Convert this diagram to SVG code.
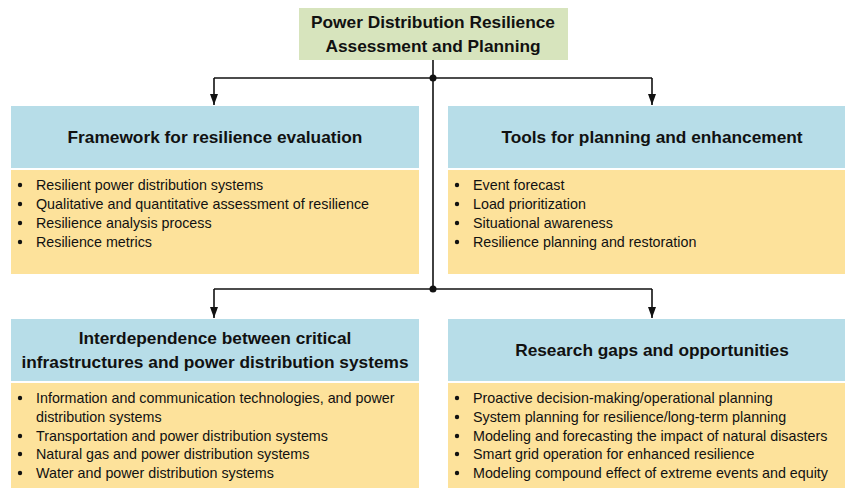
<svg xmlns="http://www.w3.org/2000/svg" width="845" height="488" viewBox="0 0 845 488">
<defs>
<style>
.title{font-family:"Liberation Sans",Arial,sans-serif;font-weight:bold;font-size:17.3px;fill:#111;text-anchor:middle}
.hd{font-family:"Liberation Sans",Arial,sans-serif;font-weight:bold;font-size:17.3px;fill:#111;text-anchor:middle}
.it{font-family:"Liberation Sans",Arial,sans-serif;font-size:14.3px;fill:#111}
.hbox{fill:#B7DDE8}
.bbox{fill:#FDE29B}
.tbox{fill:#D7E4BD}
.ln{stroke:#111;stroke-width:1.6;fill:none}
</style>
<marker id="arr" viewBox="0 0 11 8" refX="11" refY="4" markerWidth="11" markerHeight="8" markerUnits="userSpaceOnUse" orient="auto"><path d="M0,0 L11,4 L0,8 z" fill="#111"/></marker>
</defs>
<rect width="845" height="488" fill="#fff"/>
<g id="connectors">
<path class="ln" d="M433,60 V289"/>
<path class="ln" d="M214,78 H652"/>
<path class="ln" d="M214,78 V105" marker-end="url(#arr)"/>
<path class="ln" d="M652,78 V105" marker-end="url(#arr)"/>
<path class="ln" d="M214,289 H652"/>
<path class="ln" d="M214,289 V318" marker-end="url(#arr)"/>
<path class="ln" d="M652,289 V318" marker-end="url(#arr)"/>
<circle cx="433" cy="78" r="3.5" fill="#111"/>
<circle cx="433" cy="289" r="3.5" fill="#111"/>
</g>
<g id="root">
<rect class="tbox" x="299" y="8" width="269" height="52"/>
<text class="title" x="433" y="28">Power Distribution Resilience</text>
<text class="title" x="433" y="52">Assessment and Planning</text>
</g>
<g id="framework">
<rect class="hbox" x="11" y="106" width="408" height="62"/>
<text class="hd" x="215" y="143">Framework for resilience evaluation</text>
<rect class="bbox" x="11" y="170" width="408" height="104"/>
<g class="it">
<text x="36" y="190">Resilient power distribution systems</text>
<text x="36" y="209">Qualitative and quantitative assessment of resilience</text>
<text x="36" y="228">Resilience analysis process</text>
<text x="36" y="247">Resilience metrics</text>
</g>
<g fill="#111"><circle cx="20" cy="185" r="2.2"/><circle cx="20" cy="204" r="2.2"/><circle cx="20" cy="223" r="2.2"/><circle cx="20" cy="242" r="2.2"/></g>
</g>
<g id="tools">
<rect class="hbox" x="448" y="106" width="397" height="62"/>
<text class="hd" x="652" y="143">Tools for planning and enhancement</text>
<rect class="bbox" x="448" y="170" width="397" height="104"/>
<g class="it">
<text x="473" y="190">Event forecast</text>
<text x="473" y="209">Load prioritization</text>
<text x="473" y="228">Situational awareness</text>
<text x="473" y="247">Resilience planning and restoration</text>
</g>
<g fill="#111"><circle cx="457" cy="185" r="2.2"/><circle cx="457" cy="204" r="2.2"/><circle cx="457" cy="223" r="2.2"/><circle cx="457" cy="242" r="2.2"/></g>
</g>
<g id="interdependence">
<rect class="hbox" x="11" y="319" width="408" height="62"/>
<text class="hd" x="215" y="344">Interdependence between critical</text>
<text class="hd" x="215" y="368">infrastructures and power distribution systems</text>
<rect class="bbox" x="11" y="383" width="408" height="105"/>
<g class="it">
<text x="36" y="403">Information and communication technologies, and power</text>
<text x="36" y="422">distribution systems</text>
<text x="36" y="441">Transportation and power distribution systems</text>
<text x="36" y="459">Natural gas and power distribution systems</text>
<text x="36" y="478">Water and power distribution systems</text>
</g>
<g fill="#111"><circle cx="20" cy="398" r="2.2"/><circle cx="20" cy="436" r="2.2"/><circle cx="20" cy="454" r="2.2"/><circle cx="20" cy="473" r="2.2"/></g>
</g>
<g id="research">
<rect class="hbox" x="448" y="319" width="397" height="62"/>
<text class="hd" x="652" y="356">Research gaps and opportunities</text>
<rect class="bbox" x="448" y="383" width="397" height="105"/>
<g class="it">
<text x="473" y="403">Proactive decision-making/operational planning</text>
<text x="473" y="422">System planning for resilience/long-term planning</text>
<text x="473" y="441">Modeling and forecasting the impact of natural disasters</text>
<text x="473" y="459">Smart grid operation for enhanced resilience</text>
<text x="473" y="478">Modeling compound effect of extreme events and equity</text>
</g>
<g fill="#111"><circle cx="457" cy="398" r="2.2"/><circle cx="457" cy="417" r="2.2"/><circle cx="457" cy="436" r="2.2"/><circle cx="457" cy="454" r="2.2"/><circle cx="457" cy="473" r="2.2"/></g>
</g>
</svg>
